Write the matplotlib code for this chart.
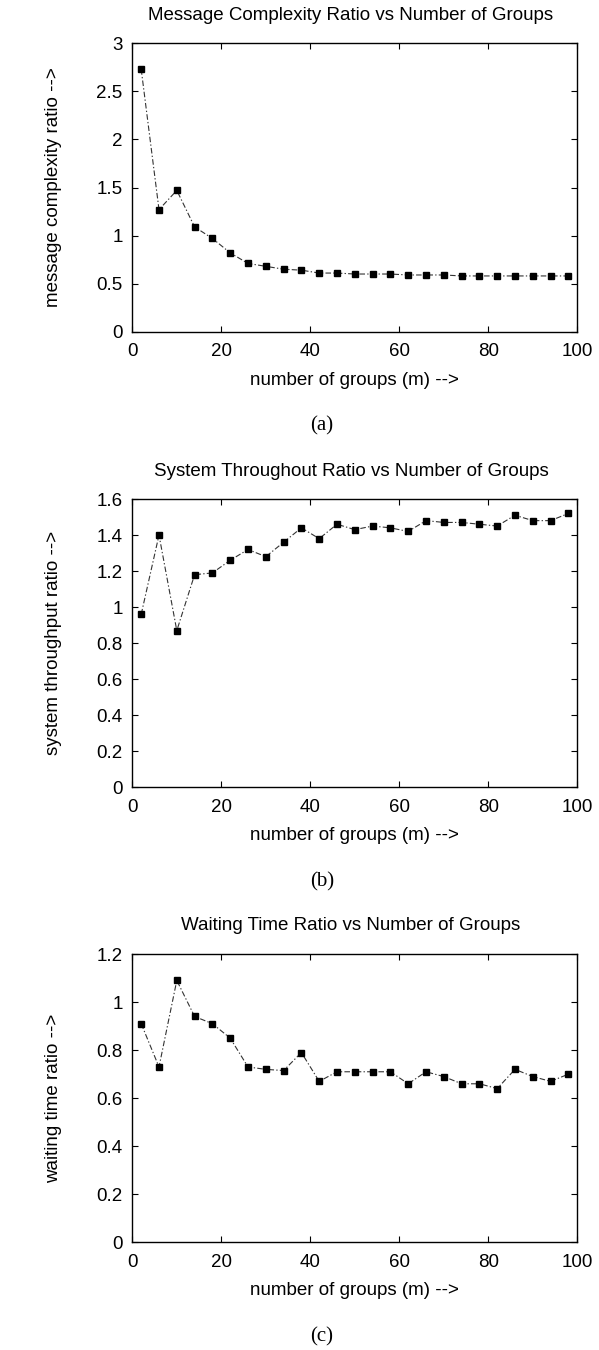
import matplotlib
matplotlib.use("Agg")
import matplotlib.pyplot as plt

groups = [2, 6, 10, 14, 18, 22, 26, 30, 34, 38, 42, 46, 50, 54, 58, 62, 66, 70, 74, 78, 82, 86, 90, 94, 98]
msg_ratio = [2.73, 1.27, 1.47, 1.09, 0.97, 0.82, 0.71, 0.68, 0.65, 0.64, 0.61, 0.61, 0.60, 0.60, 0.60,
             0.59, 0.59, 0.59, 0.58, 0.58, 0.58, 0.58, 0.58, 0.58, 0.58]
thr_ratio = [0.96, 1.40, 0.87, 1.18, 1.19, 1.26, 1.32, 1.28, 1.36, 1.44, 1.38, 1.46, 1.43, 1.45, 1.44,
             1.42, 1.48, 1.47, 1.47, 1.46, 1.45, 1.51, 1.48, 1.48, 1.52]
wait_ratio = [0.91, 0.73, 1.09, 0.94, 0.91, 0.85, 0.73, 0.72, 0.715, 0.79, 0.67, 0.71, 0.71, 0.71, 0.71,
              0.66, 0.71, 0.69, 0.66, 0.66, 0.64, 0.72, 0.69, 0.67, 0.70]

titles = ["Message Complexity Ratio vs Number of Groups",
          "System Throughout Ratio vs Number of Groups",
          "Waiting Time Ratio vs Number of Groups"]
ylabels = ["message complexity ratio -->", "system throughput ratio -->", "waiting time ratio -->"]
xlabel = "number of groups (m) -->"
captions = ["(a)", "(b)", "(c)"]
yticks = [[0, 0.5, 1, 1.5, 2, 2.5, 3],
          [0, 0.2, 0.4, 0.6, 0.8, 1, 1.2, 1.4, 1.6],
          [0, 0.2, 0.4, 0.6, 0.8, 1, 1.2]]
ytick_labels = [["0", "0.5", "1", "1.5", "2", "2.5", "3"],
                ["0", "0.2", "0.4", "0.6", "0.8", "1", "1.2", "1.4", "1.6"],
                ["0", "0.2", "0.4", "0.6", "0.8", "1", "1.2"]]
xticks = [0, 20, 40, 60, 80, 100]
series = [msg_ratio, thr_ratio, wait_ratio]

W, H = 599, 1350
fig = plt.figure(figsize=(W / 100, H / 100), dpi=100)
plt.rcParams['font.family'] = ['Liberation Sans', 'DejaVu Sans']

left_px, right_px = 132.3, 577.3
tops = [43.3, 499.0, 954.0]
height_px = 288.4
sans = 'Liberation Sans'
fs = 13.5

for i in range(3):
    top = tops[i]
    bottom = top + height_px
    ax = fig.add_axes([left_px / W, 1 - bottom / H, (right_px - left_px) / W, height_px / H])
    ax.plot(groups, series[i], color='#333333', linewidth=0.8, linestyle=(0, (5, 2, 1.2, 2)),
            marker='s', markersize=4.2, markerfacecolor='black', markeredgecolor='black')
    ax.set_xlim(0, 100)
    ax.set_ylim(yticks[i][0], yticks[i][-1])
    ax.set_xticks(xticks)
    ax.set_xticklabels([str(t) for t in xticks])
    ax.set_yticks(yticks[i])
    ax.set_yticklabels(ytick_labels[i])
    ax.tick_params(direction='in', length=4, width=0.8, top=True, right=True,
                   labelsize=fs, pad=7, colors='black')
    ax.tick_params(axis='x', pad=8)
    for sp in ax.spines.values():
        sp.set_linewidth(1.0)
    cx = (left_px + right_px) / 2
    fig.text(351 / W, 1 - (top - 28) / H, titles[i], ha='center', va='center', fontsize=fs, family=sans)
    fig.text(cx / W, 1 - (bottom + 48.5) / H, xlabel, ha='center', va='center', fontsize=fs, family=sans)
    fig.text(54 / W, 1 - ((top + bottom) / 2) / H, ylabels[i], ha='center', va='center',
             rotation=90, fontsize=fs, family=sans)
    fig.text(322 / W, 1 - (bottom + 94.5) / H, captions[i], ha='center', va='center',
             fontsize=15, family='Liberation Serif')

fig.savefig("out.png", dpi=100)
